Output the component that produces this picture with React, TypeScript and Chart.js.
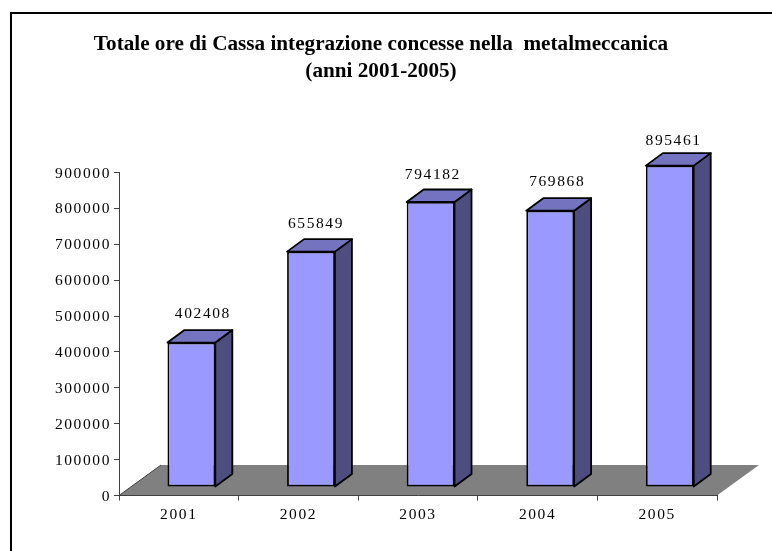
import React, { useEffect, useRef } from "react";
import { Chart, registerables } from "chart.js";

Chart.register(...registerables);

const years = ["2001", "2002", "2003", "2004", "2005"];
const hours = [402408, 655849, 794182, 769868, 895461];
const titleLines = ["Totale ore di Cassa integrazione concesse nella  metalmeccanica", "(anni 2001-2005)"];

// Hand placement of the value captions relative to their bars.
const captionDx = [11.5, 5, 2.3, 7, 3.8];
const captionRise = [28.5, 27.5, 27.5, 29, 25];

const FONT = '"Liberation Serif", "Times New Roman", serif';
const SPACING = "1.6px";
const FRONT = "#9999FF";
const SIDE = "#4D4D80";
const TOP = "#7373BF";
const FLOOR = "#808080";
const AXIS = "#404040";
const EDGE = 1.8;
const DEPTH_X = 17;
const DEPTH_Y = 12.5;
const FLOOR_DX = 42;
const FLOOR_DY = 30.5;
const SHIFT_X = 12.6;
const SHIFT_Y = -8.5;

const poly = (ctx: CanvasRenderingContext2D, pts: number[][], fill: string | null, stroke: string | null, lw = EDGE) => {
  ctx.beginPath();
  pts.forEach((p, i) => (i ? ctx.lineTo(p[0], p[1]) : ctx.moveTo(p[0], p[1])));
  ctx.closePath();
  if (fill) {
    ctx.fillStyle = fill;
    ctx.fill();
  }
  if (stroke) {
    ctx.strokeStyle = stroke;
    ctx.lineWidth = lw;
    ctx.lineJoin = "round";
    ctx.stroke();
  }
};

const scene = {
  id: "scene",
  afterLayout(chart: any) {
    // wider digit tracking for the axis labels only
    Object.values(chart.scales).forEach((scale: any) => {
      if (scale.__tracked) return;
      scale.__tracked = true;
      const orig = scale.drawLabels;
      scale.drawLabels = function (area: any) {
        const c = this.ctx;
        c.save();
        c.letterSpacing = SPACING;
        if (this.axis === "y") c.translate(0, 1);
        orig.call(this, area);
        c.restore();
      };
    });
  },
  beforeDraw(chart: any) {
    const { ctx, width, height } = chart;
    const { x, y } = chart.scales;
    const zero = y.getPixelForValue(0);
    ctx.save();
    ctx.fillStyle = "#000";
    ctx.fillRect(10, 12, width - 10, 2);
    ctx.fillRect(10, 12, 2, height - 12);
    poly(
      ctx,
      [
        [x.left, zero],
        [x.right, zero],
        [x.right + FLOOR_DX, zero - FLOOR_DY],
        [x.left + FLOOR_DX, zero - FLOOR_DY],
      ],
      FLOOR,
      null
    );
    ctx.strokeStyle = AXIS;
    ctx.lineWidth = 1;
    ctx.beginPath();
    ctx.moveTo(x.left, zero);
    ctx.lineTo(x.left + FLOOR_DX, zero - FLOOR_DY);
    ctx.stroke();
    ctx.restore();
  },
  beforeDatasetDraw(chart: any, args: any) {
    const { ctx } = chart;
    ctx.save();
    ctx.translate(SHIFT_X, SHIFT_Y);
    args.meta.data.forEach((bar: any) => {
      const { x, y, base, width } = bar.getProps(["x", "y", "base", "width"], true);
      const l = x - width / 2;
      const r = x + width / 2;
      poly(ctx, [[r, y], [r + DEPTH_X, y - DEPTH_Y], [r + DEPTH_X, base - DEPTH_Y], [r, base]], SIDE, "#000");
      poly(ctx, [[l, y], [l + DEPTH_X, y - DEPTH_Y], [r + DEPTH_X, y - DEPTH_Y], [r, y]], TOP, "#000");
    });
  },
  afterDatasetDraw(chart: any, args: any) {
    const { ctx } = chart;
    ctx.restore();
    ctx.save();
    ctx.font = `15.5px ${FONT}`;
    ctx.fillStyle = "#000";
    ctx.textAlign = "center";
    ctx.textBaseline = "middle";
    ctx.letterSpacing = SPACING;
    args.meta.data.forEach((bar: any, i: number) => {
      const { x, y } = bar.getProps(["x", "y"], true);
      ctx.fillText(String(hours[i]), x + SHIFT_X + captionDx[i], y + SHIFT_Y - captionRise[i]);
    });
    ctx.restore();
  },
};

export default function App() {
  const ref = useRef<HTMLCanvasElement>(null);
  useEffect(() => {
    const chart = new Chart(ref.current!, {
      type: "bar",
      plugins: [scene],
      data: {
        labels: years,
        datasets: [
          {
            data: hours,
            backgroundColor: FRONT,
            borderColor: "#000",
            borderWidth: EDGE,
            borderSkipped: false,
            barPercentage: 0.4,
            categoryPercentage: 1,
            clip: false,
          } as any,
        ],
      },
      options: {
        animation: false,
        responsive: false,
        layout: { padding: { left: 45, right: 55, top: 0, bottom: 0 } },
        plugins: {
          legend: { display: false },
          tooltip: { enabled: false },
          title: {
            display: true,
            text: titleLines,
            color: "#000",
            font: { family: FONT, size: 21.2, weight: "bold", lineHeight: 27 / 21.2 },
            padding: { top: 31.5, bottom: 87 },
          },
        },
        scales: {
          x: {
            afterFit: (s: any) => {
              s.height = 55.5;
            },
            border: { color: AXIS, width: 1 },
            grid: { drawOnChartArea: false, color: AXIS, tickLength: 5 },
            ticks: { color: "#000", font: { family: FONT, size: 15.5 }, padding: 5, maxRotation: 0 },
          },
          y: {
            min: 0,
            max: 900000,
            afterFit: (s: any) => {
              s.width = 74;
            },
            border: { color: AXIS, width: 1 },
            grid: { drawOnChartArea: false, color: AXIS, tickLength: 5 },
            ticks: { color: "#000", stepSize: 100000, font: { family: FONT, size: 15.5 }, padding: 3, callback: (v: any) => String(v) },
          },
        },
      },
    } as any);
    return () => chart.destroy();
  }, []);
  return (
    <div style={{ position: "absolute", left: 0, top: 0, width: 772, height: 551, background: "#fff" }}>
      <canvas ref={ref} width={772} height={551} style={{ display: "block" }} />
    </div>
  );
}
